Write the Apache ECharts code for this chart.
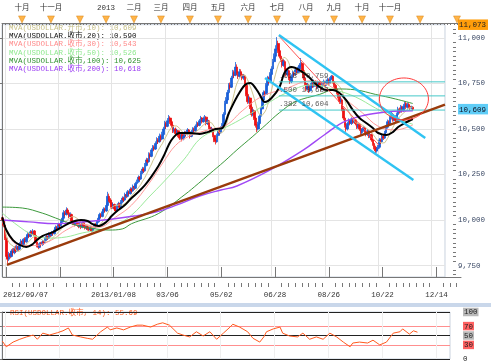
<!DOCTYPE html>
<html><head><meta charset="utf-8">
<script src="https://cdn.jsdelivr.net/npm/echarts@6/dist/echarts.min.js"></script>
<style>html,body{margin:0;padding:0;background:#fff}#c{width:491px;height:363px}</style>
</head><body><div id="c"></div><script>
// ---- data ----
// candles: [open, close, low, high], one per trading day
const candles = [
[10010,10000,9985,10020],[10000,9970,9960,10005],[9970,9900,9890,9975],[9900,9800,9790,9905],[9800,9785,9760,9810],
[9785,9815,9775,9825],[9815,9800,9790,9830],[9800,9830,9795,9840],[9830,9820,9805,9845],[9820,9845,9812,9855],
[9845,9830,9820,9860],[9830,9855,9825,9865],[9855,9840,9830,9862],[9840,9870,9835,9878],[9870,9885,9860,9895],
[9885,9865,9855,9890],[9865,9895,9860,9900],[9895,9880,9870,9905],[9880,9905,9875,9915],[9905,9920,9895,9935],
[9920,9910,9900,9930],[9910,9935,9905,9945],[9935,9925,9915,9942],[9925,9940,9918,9950],[9940,9915,9905,9945],
[9915,9880,9872,9920],[9880,9860,9850,9888],[9860,9850,9840,9868],[9850,9870,9845,9878],[9870,9865,9855,9880],
[9865,9880,9858,9890],[9880,9875,9865,9888],[9875,9895,9870,9905],[9895,9910,9885,9918],[9910,9900,9890,9915],
[9900,9925,9895,9932],[9925,9915,9905,9930],[9915,9930,9910,9940],[9930,9925,9915,9938],[9925,9945,9920,9955],
[9945,9960,9938,9970],[9960,9950,9940,9968],[9950,9975,9945,9985],[9975,9970,9958,9982],[9970,9990,9965,10000],
[9990,10010,9985,10020],[10010,10040,10005,10055],[10040,10030,10020,10050],[10030,10055,10025,10070],[10055,10040,10030,10065],
[10040,10020,10010,10048],[10020,10030,10012,10042],[10030,9995,9985,10035],[9995,9985,9972,10002],[9985,9975,9965,9992],
[9975,9990,9968,9998],[9990,9980,9970,9995],[9980,9965,9955,9988],[9965,9975,9958,9985],[9975,9960,9950,9980],
[9960,9985,9955,9992],[9985,9970,9960,9990],[9970,9955,9948,9975],[9955,9965,9945,9972],[9965,9950,9942,9970],
[9950,9945,9938,9958],[9945,9960,9940,9968],[9960,9940,9932,9965],[9940,9955,9935,9962],[9955,9975,9950,9982],
[9975,9970,9960,9985],[9970,9990,9965,9998],[9990,10010,9985,10018],[10010,10030,10002,10040],[10030,10020,10010,10038],
[10020,10045,10015,10055],[10045,10060,10038,10070],[10060,10050,10040,10068],[10050,10080,10045,10095],[10080,10130,10075,10155],
[10130,10110,10100,10145],[10110,10095,10085,10120],[10095,10070,10060,10100],[10070,10085,10062,10095],[10085,10060,10050,10090],
[10060,10050,10038,10068],[10050,10075,10045,10085],[10075,10090,10068,10100],[10090,10070,10060,10095],[10070,10100,10065,10110],
[10100,10120,10092,10130],[10120,10110,10100,10128],[10110,10140,10105,10150],[10140,10130,10120,10148],[10130,10155,10125,10165],
[10155,10145,10135,10162],[10145,10170,10140,10180],[10170,10160,10150,10178],[10160,10185,10155,10195],[10185,10175,10165,10192],
[10175,10200,10170,10210],[10200,10210,10190,10222],[10210,10235,10205,10245],[10235,10225,10215,10242],[10225,10260,10220,10270],
[10260,10280,10252,10292],[10280,10270,10260,10290],[10270,10300,10265,10313],[10300,10330,10295,10342],[10330,10320,10310,10340],
[10320,10360,10315,10372],[10360,10350,10338,10370],[10350,10385,10345,10395],[10385,10400,10375,10412],[10400,10390,10378,10410],
[10390,10420,10385,10432],[10420,10440,10412,10455],[10440,10430,10418,10450],[10430,10460,10425,10475],[10460,10445,10432,10470],
[10445,10470,10438,10485],[10470,10500,10462,10512],[10500,10530,10492,10545],[10530,10515,10502,10540],[10515,10545,10510,10560],
[10545,10560,10535,10577],[10560,10540,10528,10570],[10540,10520,10505,10548],[10520,10490,10478,10525],[10490,10500,10480,10510],
[10500,10475,10465,10508],[10475,10490,10468,10500],[10490,10465,10455,10495],[10465,10450,10440,10472],[10450,10470,10442,10480],
[10470,10445,10432,10475],[10445,10460,10438,10470],[10460,10480,10452,10490],[10480,10470,10460,10488],[10470,10495,10465,10505],
[10495,10480,10470,10500],[10480,10460,10448,10485],[10460,10485,10455,10495],[10485,10500,10478,10510],[10500,10490,10480,10508],
[10490,10515,10485,10525],[10515,10530,10508,10542],[10530,10520,10510,10538],[10520,10545,10515,10555],[10545,10560,10538,10572],
[10560,10540,10530,10565],[10540,10555,10535,10568],[10555,10565,10545,10577],[10565,10530,10520,10570],[10530,10545,10522,10555],
[10545,10510,10500,10550],[10510,10490,10478,10518],[10490,10500,10482,10510],[10500,10465,10455,10505],[10465,10440,10428,10470],
[10440,10430,10415,10450],[10430,10465,10425,10475],[10465,10490,10458,10500],[10490,10480,10470,10498],[10480,10505,10475,10515],
[10505,10520,10498,10532],[10520,10580,10515,10592],[10580,10640,10575,10655],[10640,10660,10630,10675],[10660,10700,10652,10715],
[10700,10740,10692,10752],[10740,10730,10718,10755],[10730,10780,10725,10792],[10780,10810,10772,10825],[10810,10795,10782,10822],
[10795,10840,10790,10868],[10840,10810,10798,10855],[10810,10790,10775,10820],[10790,10815,10782,10830],[10815,10800,10788,10828],
[10800,10780,10768,10810],[10780,10790,10770,10802],[10790,10740,10730,10795],[10740,10690,10680,10748],[10690,10650,10638,10700],
[10650,10670,10640,10682],[10670,10620,10610,10678],[10620,10580,10568,10628],[10580,10600,10570,10612],[10600,10560,10550,10608],
[10560,10520,10508,10568],[10520,10500,10483,10528],[10500,10530,10492,10540],[10530,10570,10522,10580],[10570,10610,10562,10622],
[10610,10660,10602,10672],[10660,10700,10650,10712],[10700,10690,10678,10710],[10690,10740,10685,10752],[10740,10780,10732,10792],
[10780,10760,10748,10788],[10760,10800,10755,10812],[10800,10830,10792,10845],[10830,10870,10822,10885],[10870,10900,10860,10915],
[10900,10940,10892,10960],[10940,10970,10930,11005],[10970,10930,10918,10985],[10930,10900,10888,10940],[10900,10880,10868,10910],
[10880,10850,10838,10888],[10850,10870,10842,10882],[10870,10830,10818,10878],[10830,10800,10788,10838],[10800,10820,10792,10832],
[10820,10780,10768,10826],[10780,10760,10748,10788],[10760,10790,10752,10800],[10790,10810,10782,10822],[10810,10800,10788,10818],
[10800,10825,10795,10838],[10825,10810,10798,10832],[10810,10830,10802,10842],[10830,10850,10822,10862],[10850,10860,10840,10890],
[10860,10820,10808,10868],[10820,10780,10768,10828],[10780,10750,10738,10788],[10750,10720,10708,10758],[10720,10740,10712,10752],
[10740,10710,10698,10748],[10710,10730,10702,10742],[10730,10750,10722,10762],[10750,10735,10725,10758],[10735,10760,10728,10772],
[10760,10745,10735,10768],[10745,10730,10718,10752],[10730,10755,10722,10765],[10755,10740,10730,10762],[10740,10720,10710,10748],
[10720,10745,10712,10755],[10745,10760,10738,10772],[10760,10740,10730,10765],[10740,10755,10732,10765],[10755,10770,10748,10782],
[10770,10750,10740,10778],[10750,10775,10745,10785],[10775,10790,10768,10797],[10790,10760,10750,10795],[10760,10740,10728,10768],
[10740,10720,10708,10748],[10720,10700,10690,10728],[10700,10680,10668,10708],[10680,10650,10638,10688],[10650,10660,10640,10672],
[10660,10610,10598,10668],[10610,10560,10548,10618],[10560,10520,10508,10568],[10520,10500,10485,10528],[10500,10530,10492,10540],
[10530,10545,10522,10558],[10545,10530,10520,10552],[10530,10555,10522,10566],[10555,10540,10530,10562],[10540,10550,10532,10560],
[10550,10530,10520,10555],[10530,10510,10500,10538],[10510,10525,10502,10535],[10525,10500,10490,10530],[10500,10480,10468,10508],
[10480,10495,10472,10505],[10495,10505,10485,10515],[10505,10485,10475,10510],[10485,10470,10460,10492],[10470,10490,10462,10500],
[10490,10460,10450,10495],[10460,10470,10450,10480],[10470,10440,10430,10475],[10440,10420,10408,10448],[10420,10400,10388,10428],
[10400,10380,10368,10408],[10380,10390,10370,10400],[10390,10400,10378,10412],[10400,10440,10392,10450],[10440,10430,10418,10448],
[10430,10460,10425,10470],[10460,10450,10440,10468],[10450,10480,10445,10490],[10480,10510,10472,10522],[10510,10540,10502,10552],
[10540,10525,10515,10548],[10525,10560,10520,10572],[10560,10580,10552,10595],[10580,10550,10540,10588],[10550,10570,10542,10580],
[10570,10545,10535,10575],[10545,10580,10540,10590],[10580,10610,10572,10622],[10610,10595,10585,10618],[10595,10620,10590,10632],
[10620,10600,10590,10628],[10600,10625,10595,10638],[10625,10640,10618,10652],[10640,10620,10610,10648],[10620,10635,10612,10645],
[10635,10625,10615,10642],[10625,10615,10605,10632],[10615,10620,10608,10628],[10620,10609,10600,10626]
];
// moving averages: [bar index, value]
const ma20 = [[0,10016],[3,9945],[8,9890],[13,9863],[18,9852],[22,9863],[26,9890],[30,9912],[38,9934],[45,9962],[52,9989],[59,10000],[64,9995],[67,9980],[72,9967],[78,9989],[82,10022],[87,10055],[92,10082],[97,10121],[102,10154],[107,10192],[112,10240],[117,10295],[121,10350],[125,10415],[128,10450],[133,10478],[141,10478],[148,10473],[154,10483],[160,10500],[165,10505],[170,10588],[176,10676],[182,10742],[186,10753],[190,10725],[193,10690],[197,10648],[202,10670],[208,10731],[212,10813],[217,10841],[223,10824],[230,10786],[236,10742],[243,10714],[248,10714],[253,10698],[258,10659],[263,10604],[268,10560],[273,10533],[278,10505],[282,10478],[288,10467],[293,10483],[297,10511],[302,10533],[308,10555]];
const ma30 = [[0,9995],[12,9863],[24,9860],[37,9890],[48,9945],[60,9978],[72,9960],[85,10016],[97,10082],[110,10200],[121,10320],[130,10410],[140,10460],[152,10490],[168,10522],[180,10600],[195,10680],[212,10720],[232,10765],[245,10740],[258,10660],[270,10590],[282,10515],[295,10495],[308,10522]];
const ma50 = [[0,10038],[11,9973],[23,9918],[35,9901],[48,9907],[60,9929],[72,9945],[85,9973],[97,10027],[110,10126],[121,10209],[136,10330],[150,10456],[168,10511],[182,10566],[197,10632],[213,10698],[232,10742],[250,10714],[265,10676],[280,10615],[295,10560],[308,10526]];
const ma100 = [[0,10071],[15,10066],[30,10038],[40,10011],[50,9984],[60,9962],[70,9951],[80,9945],[90,9951],[97,9980],[117,10035],[137,10140],[147,10200],[155,10250],[167,10325],[176,10385],[188,10460],[198,10525],[208,10590],[220,10650],[238,10690],[251,10720],[265,10715],[280,10690],[295,10665],[308,10640]];
const ma200 = [[0,10000],[20,9990],[40,9980],[60,9989],[80,10003],[99,10022],[115,10044],[130,10080],[148,10132],[164,10165],[176,10187],[201,10275],[226,10385],[242,10470],[258,10545],[282,10588],[308,10600]];
// RSI(14)
const rsi = [[0,38],[3,26],[8,36],[13,42],[18,47],[23,51],[26,42],[30,55],[35,51],[41,56],[45,60],[49,66],[52,51],[58,47],[63,44],[67,42],[73,58],[78,68],[80,62],[85,66],[90,62],[95,68],[100,72],[104,72],[110,68],[115,74],[119,77],[124,72],[130,55],[134,51],[139,47],[144,58],[149,49],[154,58],[159,42],[164,55],[169,68],[171,74],[176,68],[182,58],[186,44],[191,36],[194,47],[196,58],[201,64],[206,68],[208,55],[213,49],[219,47],[223,55],[228,42],[233,47],[238,42],[243,55],[248,47],[253,36],[258,26],[260,34],[265,36],[271,34],[275,40],[280,30],[285,36],[290,55],[295,58],[297,64],[302,53],[305,60],[308,57]];
// drawn lines [bar index, value]
const trendLine = [[3.5,9753],[332.1,10634]];
const channelUpper = [[207.5,11016],[317.3,10451]];
const channelLower = [[197.1,10780],[308.4,10220]];
const peakLine = [[207.5,11011],[282.4,10412]];
const fibLevels = [10759,10682,10604];
const fibNames = ['.618','.500','.382'];
const fibStart = 207.5;
// axis labels
const dateTicks = [2,42,82,122,162,202,242,282,322];
const dateNames = ['2012/09/07','','2013/01/08','03/06','05/02','06/28','08/26','10/22','12/14'];
const monthTicks = [14.6,36.1,57.6,77,97.7,117.7,139.2,160,182.3,203.8,225.3,246.1,266.9,287.6,309.9,337.3];
const monthNames = ['十月','十一月','','2013','二月','三月','四月','五月','六月','七月','八月','九月','十月','十一月','',''];
const priceTicks = [9750,10000,10250,10500,10750,11000];
const lastPrice = 10609, priceMax = 11073, priceMin = 9687;
const legendTexts = ['MVA(USDOLLAR.开市,10): 10,609','MVA(USDOLLAR.收市,20): 10,590','MVA(USDOLLAR.收市,30): 10,543','MVA(USDOLLAR.收市,50): 10,526','MVA(USDOLLAR.收市,100): 10,625','MVA(USDOLLAR.收市,200): 10,618'];
const rsiTitle = 'RSI(USDOLLAR.收市, 14): 55.69';

// ---- chart ----
const FONT = "'Liberation Mono','Noto Sans CJK SC',monospace";
const FS = 7.5;
const XMIN = -0.22, XMAX0 = XMIN + 448/1.348, XMAX1 = XMIN + 459/1.348;
const closes = candles.map(r => r[1]);
const ma10 = closes.map((c, i) => { const s = closes.slice(Math.max(0, i-9), i+1); return [i, s.reduce((a,b)=>a+b,0)/s.length]; });
const fmt = v => String(Math.round(v)).replace(/\B(?=(\d{3})+(?!\d))/g, ',');
const minorX = []; for (let v = -3; v <= 340; v += 5) if (!dateTicks.includes(v)) minorX.push(v);
const minorY = []; for (let v = 9700; v <= 11070; v += 25) if (v % 250) minorY.push(v);
const topMinor = []; for (let v = 0; v <= 340; v += 2.5) topMinor.push(v);
const lineS = (name, data, color, width, smooth, z) => ({name, type:'line', xAxisIndex:0, yAxisIndex:0, data, showSymbol:false, symbol:'none', smooth: smooth||false, lineStyle:{color, width}, z: z||3, silent:true, animation:false});

const chart = echarts.init(document.getElementById('c'), null, {renderer:'canvas'});
const option = {
  animation:false,
  backgroundColor:'#fff',
  textStyle:{fontFamily:FONT, fontSize:FS},
  grid:[
    {left:2, top:24.7, width:448, height:252.3, show:true, borderColor:'#c9d2de', borderWidth:1},
    {left:2, top:24.7, width:459, height:252.3},
    {left:2, top:15, width:459, height:8},
    {left:2, top:312, width:448, height:47, show:true, borderColor:'#c9d2de', borderWidth:1},
  ],
  xAxis:[
    {type:'value', gridIndex:0, min:XMIN, max:XMAX0, axisLine:{show:false}, axisLabel:{show:false},
     axisTick:{show:false, customValues:dateTicks}, splitLine:{show:true, lineStyle:{color:'#e4e4e4', width:1}}},
    {type:'value', gridIndex:1, min:XMIN, max:XMAX1, position:'bottom', offset:10,
     axisLine:{show:true, lineStyle:{color:'#777', width:1}},
     axisTick:{show:true, inside:true, length:10, customValues:dateTicks, lineStyle:{color:'#777'}},
     axisLabel:{show:true, customValues:dateTicks.filter((t,k)=>dateNames[k]), margin:4, color:'#333', fontFamily:FONT, fontSize:FS,
       formatter:v => { const k = dateTicks.indexOf(v); return k===0 ? '{f|'+dateNames[k]+'}' : dateNames[k]; },
       rich:{f:{padding:[0,0,0,39], fontFamily:FONT, fontSize:FS, color:'#333'}}},
     splitLine:{show:false}},
    {type:'value', gridIndex:1, min:XMIN, max:XMAX1, position:'bottom', offset:10, axisLine:{show:false},
     axisTick:{show:true, inside:true, length:4, customValues:minorX, lineStyle:{color:'#777'}}, axisLabel:{show:false}, splitLine:{show:false}},
    {type:'value', gridIndex:2, min:XMIN, max:XMAX1, position:'top',
     axisLine:{show:true, lineStyle:{color:'#777', width:1}},
     axisTick:{show:true, inside:true, length:2, customValues:topMinor, lineStyle:{color:'#777'}},
     axisLabel:{show:true, customValues:monthTicks.filter((t,k)=>monthNames[k]), margin:3, color:'#333', fontFamily:FONT, fontSize:FS,
       formatter:v => monthNames[monthTicks.indexOf(v)]},
     splitLine:{show:false}},
    {type:'value', gridIndex:3, min:XMIN, max:XMAX0, axisLine:{show:false}, axisLabel:{show:false},
     axisTick:{show:false, customValues:dateTicks}, splitLine:{show:true, lineStyle:{color:'#efefef'}}},
  ],
  yAxis:[
    {type:'value', gridIndex:0, min:priceMin, max:priceMax, position:'right', offset:11,
     axisLine:{show:true, lineStyle:{color:'#777'}},
     axisTick:{show:true, inside:true, length:6, customValues:priceTicks, lineStyle:{color:'#777'}},
     axisLabel:{show:true, customValues:priceTicks.concat([lastPrice, priceMax]), margin:2, color:'#3c4a66', fontFamily:FONT, fontSize:FS,
       formatter:v => v===priceMax ? '{o|'+fmt(v)+'}' : v===lastPrice ? '{b|'+fmt(v)+'}' : fmt(v),
       rich:{o:{backgroundColor:'#ff9d0a', color:'#222', padding:[2,2,1,1], fontFamily:FONT, fontSize:FS},
             b:{backgroundColor:'#5fcdf7', color:'#112', padding:[2,2,1,1], fontFamily:FONT, fontSize:FS}}},
     splitLine:{show:true, lineStyle:{color:'#e4e4e4', width:1}}},
    {type:'value', gridIndex:0, min:priceMin, max:priceMax, position:'right', offset:11, axisLine:{show:false},
     axisTick:{show:true, inside:true, length:3, customValues:minorY, lineStyle:{color:'#777'}}, axisLabel:{show:false}, splitLine:{show:false}},
    {type:'value', gridIndex:1, min:0, max:1, show:false},
    {type:'value', gridIndex:2, min:0, max:1, show:false},
    {type:'value', gridIndex:3, min:0, max:100, position:'right', offset:11,
     axisLine:{show:true, lineStyle:{color:'#777'}},
     axisTick:{show:true, inside:true, length:4, customValues:[0,30,50,70,100], lineStyle:{color:'#777'}},
     axisLabel:{show:true, customValues:[0,30,50,70,100], margin:2, color:'#222', fontFamily:FONT, fontSize:FS,
       formatter:v => v===100||v===50 ? '{g|'+v+'}' : (v===70||v===30) ? '{r|'+v+'}' : String(v),
       rich:{g:{backgroundColor:'#b9b9b9', padding:[1,1,0,1], fontFamily:FONT, fontSize:FS, color:'#222'},
             r:{backgroundColor:'#ff6262', padding:[1,1,0,1], fontFamily:FONT, fontSize:FS, color:'#222'}}},
     splitLine:{show:true, lineStyle:{color:['#222','#ff8f8f','#222','#ff8f8f','#222'], width:1}}},
  ],
  series:[
    {type:'candlestick', xAxisIndex:0, yAxisIndex:0, data:candles.map((r,i)=>[i,r[0],r[1],r[2],r[3]]),
     encode:{x:0, y:[1,2,3,4]}, barWidth:2.1, silent:true, z:2,
     itemStyle:{color:'#1b5fd8', color0:'#ee1111', borderColor:'#1b5fd8', borderColor0:'#ee1111', borderWidth:0.8}},
    lineS('ma10', ma10, '#cfc58e', 1, false, 3),
    lineS('ma30', ma30, '#ff9a9a', 1, 0.4, 3),
    lineS('ma50', ma50, '#9bea9b', 1, 0.4, 3),
    lineS('ma100', ma100, '#3d9a3d', 1, 0.4, 3),
    lineS('ma200', ma200, '#a048f5', 1.4, 0.4, 3),
    lineS('ma20', ma20, '#000', 2, 0.35, 4),
    ...fibLevels.map(v => lineS('fib', [[fibStart, v],[XMAX0, v]], '#45c8c8', 1, false, 5)),
    lineS('peak', peakLine, '#ff5555', 1, false, 5),
    lineS('trend', trendLine, '#9a3b0c', 2.4, false, 6),
    lineS('chU', channelUpper, '#2fc3f2', 2.4, false, 6),
    lineS('chL', channelLower, '#2fc3f2', 2.4, false, 6),
    {type:'scatter', xAxisIndex:0, yAxisIndex:0, symbolSize:2, itemStyle:{color:'rgba(0,0,0,0)'}, silent:true, z:7,
     data:fibLevels.map((v,k)=>({value:[fibStart, v], name:fibNames[k]+' '+fmt(v)})),
     label:{show:true, position:[1,-9], formatter:p=>p.name, color:'#333', fontFamily:FONT, fontSize:FS}},
    {type:'scatter', xAxisIndex:3, yAxisIndex:3, symbol:'triangle', symbolRotate:180, symbolSize:[7,7], silent:true, clip:false,
     data:monthTicks.map(t=>[t,0.45]), itemStyle:{color:'#ffa11c', borderColor:'#d07800', borderWidth:0.5}},
    {type:'line', xAxisIndex:4, yAxisIndex:4, data:rsi, showSymbol:false, symbol:'none', lineStyle:{color:'#ff5a1e', width:1}, silent:true, z:4},
  ],
  graphic:[
    {type:'rect', shape:{x:0, y:303, width:491, height:4}, style:{fill:'#c9d7ea'}, silent:true},
    ...legendTexts.map((t,k)=>({type:'text', left:9, top:24 + k*8.3, silent:true,
      style:{text:t, fill:['#c6bf86','#111','#ff8a8a','#8fe88f','#2f922f','#9a3cf2'][k], font:FS+'px '+FONT}})),
    {type:'text', left:10, top:309, silent:true, style:{text:rsiTitle, fill:'#ff5a1e', font:FS+'px '+FONT}},
  ]
};
chart.setOption(option);
// red ellipse annotation around the latest consolidation
const ec = chart.convertToPixel({xAxisIndex:0, yAxisIndex:0}, [301.3, 10665]);
chart.setOption({graphic: option.graphic.concat([{type:'ellipse', shape:{cx:ec[0], cy:ec[1], rx:24.5, ry:21}, style:{fill:'none', stroke:'#ff3b3b', lineWidth:1}, silent:true, z:10}])});
</script></body></html>
